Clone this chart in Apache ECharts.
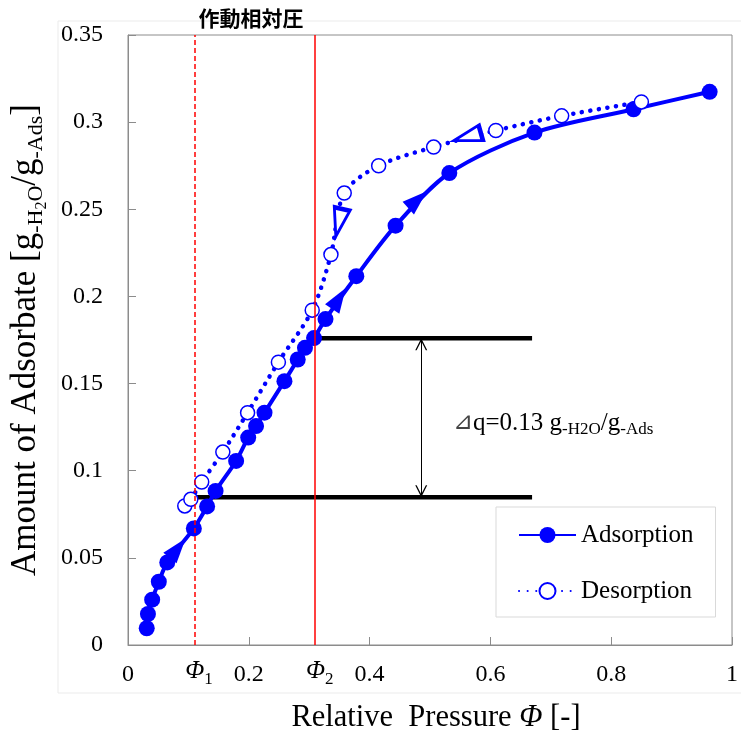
<!DOCTYPE html>
<html><head><meta charset="utf-8">
<script src="https://cdn.jsdelivr.net/npm/echarts@6/dist/echarts.min.js"></script>
<style>html,body{margin:0;padding:0;background:#fff}#c{width:741px;height:738px}</style>
</head><body><div id="c"></div>
<script>
// ---- data ----
const adsX = [0.031, 0.033, 0.040, 0.051, 0.065, 0.109, 0.131, 0.145, 0.179, 0.199, 0.212, 0.226, 0.259, 0.281, 0.293, 0.308, 0.327, 0.378, 0.443, 0.532, 0.673, 0.837, 0.963];
const adsY = [0.0096, 0.0178, 0.026, 0.0363, 0.0474, 0.0669, 0.0795, 0.0884, 0.1056, 0.119, 0.1256, 0.1333, 0.1514, 0.1638, 0.1705, 0.1761, 0.187, 0.2116, 0.2406, 0.2708, 0.294, 0.3074, 0.3174];
const desX = [0.094, 0.104, 0.122, 0.157, 0.198, 0.249, 0.305, 0.336, 0.358, 0.415, 0.506, 0.609, 0.718, 0.850];
const desY = [0.0798, 0.0836, 0.0935, 0.1107, 0.1333, 0.1623, 0.1921, 0.224, 0.2593, 0.275, 0.2857, 0.2952, 0.3036, 0.3116];
// direction arrows: [x, y, rotation]
const adsArrows = [[0.0824, 0.0555, -39], [0.3493, 0.1988, -33], [0.4794, 0.2555, -48]];
const desArrows = [[0.5618, 0.2916, 106], [0.3493, 0.2423, 167]];
const phi1 = 0.107, phi2 = 0.306;
const qHigh = 0.176, qLow = 0.0848;
const bandHighX = [0.306, 0.669];
const bandLowX = [0.113, 0.669];
const dqX = 0.4855;
const xTicks = {min: 0, max: 1, interval: 0.2};
const yTicks = {min: 0, max: 0.35, interval: 0.05};

const SERIF = '"Liberation Serif","Times New Roman",serif';
const BLUE = '#0000ff';
const AX = '#8c8c8c';
const chevron = 'path://M6,0 L6,0.01 M0,24 L6,12 L12,24 L10.6,24 L6,15 L1.4,24 Z';

const chart = echarts.init(document.getElementById('c'), null, {renderer: 'canvas'});
chart.setOption({
  animation: false,
  backgroundColor: '#fff',
  grid: {left: 128, top: 35, width: 607, height: 611, show: true, borderColor: AX, borderWidth: 1, containLabel: false},
  xAxis: {
    type: 'value', min: xTicks.min, max: xTicks.max, interval: xTicks.interval,
    splitLine: {show: false},
    axisLine: {show: true, lineStyle: {color: AX, width: 1}},
    axisTick: {show: true, inside: true, length: 8, lineStyle: {color: AX}},
    axisLabel: {fontFamily: SERIF, fontSize: 24, color: '#000', margin: 18},
    name: 'Relative  Pressure {i|Φ} [-]', nameLocation: 'middle', nameGap: 57,
    nameTextStyle: {fontFamily: SERIF, fontSize: 30.5, color: '#000', padding: [0, 0, 0, 12],
      rich: {i: {fontFamily: SERIF, fontSize: 30.5, fontStyle: 'italic', color: '#000'}}}
  },
  yAxis: {
    type: 'value', min: yTicks.min, max: yTicks.max, interval: yTicks.interval,
    splitLine: {show: false},
    axisLine: {show: true, lineStyle: {color: AX, width: 1}},
    axisTick: {show: true, inside: true, length: 8, lineStyle: {color: AX}},
    axisLabel: {fontFamily: SERIF, fontSize: 24, color: '#000', margin: 25},
    name: 'Amount of Adsorbate [g{s|-H}{ss|2}{s|O}/g{s|-Ads}]',
    nameLocation: 'middle', nameRotate: 90, nameGap: 75,
    nameTextStyle: {fontFamily: SERIF, fontSize: 35, color: '#000',
      rich: {
        s: {fontFamily: SERIF, fontSize: 22, color: '#000', padding: [20, 0, 0, 0]},
        ss: {fontFamily: SERIF, fontSize: 16, color: '#000', padding: [32, 0, 0, 0]}
      }}
  },
  legend: {
    data: ['Adsorption', 'Desorption'],
    orient: 'vertical', left: 496, top: 507,
    padding: [14, 22, 12, 22], itemGap: 28,
    itemWidth: 57, itemHeight: 20,
    borderColor: '#d9d9d9', borderWidth: 1, backgroundColor: '#fff',
    textStyle: {fontFamily: SERIF, fontSize: 25, color: '#000', lineHeight: 28}
  },
  graphic: [
    {type: 'rect', z: -10, silent: true, shape: {x: 58, y: 21, width: 690, height: 672},
     style: {fill: 'none', stroke: '#ebebeb', lineWidth: 1}},
    {type: 'text', x: 251, y: 18, silent: true,
     style: {text: '作動相対圧', fontFamily: '"Noto Sans CJK JP"', fontSize: 21, fontWeight: 'bold', fill: '#000',
             align: 'center', verticalAlign: 'middle'}},
    {type: 'text', x: 453, y: 423, silent: true,
     style: {text: '{d|⊿}q=0.13 g{s|-H2O}/g{s|-Ads}', fontFamily: SERIF, fontSize: 25, fill: '#000',
             align: 'left', verticalAlign: 'middle',
             rich: {
               d: {fontSize: 24, fill: '#444', fontFamily: '"DejaVu Sans",sans-serif', fontWeight: 'lighter'},
               s: {fontFamily: SERIF, fontSize: 17, fill: '#000', padding: [14, 0, 0, 0]}
             }}}
  ],
  series: [
    {
      name: 'bandHigh', type: 'line', z: 2, silent: true, symbol: 'none',
      data: bandHighX.map(x => [x, qHigh]),
      lineStyle: {color: '#000', width: 4.5},
      markLine: {
        silent: true, symbol: ['none', 'none'],
        label: {show: true, position: 'start', distance: 10, color: '#000', padding: [0, 0, 0, 9],
          rich: {
            i: {fontFamily: SERIF, fontSize: 25, fontStyle: 'italic', color: '#000'},
            s: {fontFamily: SERIF, fontSize: 17, color: '#000', padding: [16, 0, 0, 0]}
          }},
        data: [
          {xAxis: phi1, lineStyle: {color: '#ff0000', width: 1.5, type: [5, 3]}, label: {formatter: '{i|Φ}{s|1}'}},
          {xAxis: phi2, lineStyle: {color: '#ff0000', width: 1.5, type: 'solid'}, label: {formatter: '{i|Φ}{s|2}'}}
        ]
      }
    },
    {
      name: 'bandLow', type: 'line', z: 2, silent: true, symbol: 'none',
      data: bandLowX.map(x => [x, qLow]),
      lineStyle: {color: '#000', width: 4.5},
      markLine: {
        silent: true, symbol: [chevron, chevron], symbolSize: [12, 24],
        label: {show: false},
        lineStyle: {color: '#000', width: 1, type: 'solid'},
        data: [[{coord: [dqX, qLow]}, {coord: [dqX, qHigh]}]]
      }
    },
    {
      name: 'Adsorption', type: 'line', z: 3, smooth: 0.3,
      data: adsX.map((x, i) => [x, adsY[i]]),
      symbol: 'circle', symbolSize: 16, showAllSymbol: true,
      itemStyle: {color: BLUE},
      lineStyle: {color: BLUE, width: 4}
    },
    {
      name: 'Desorption', type: 'line', z: 4, smooth: 0.3,
      data: desX.map((x, i) => [x, desY[i]]),
      symbol: 'circle', symbolSize: 14, showAllSymbol: true,
      itemStyle: {color: '#fff', borderColor: BLUE, borderWidth: 1.5},
      lineStyle: {color: BLUE, width: 4.5, type: [0.1, 8.5], cap: 'round'}
    },
    {
      name: 'adsArrows', type: 'scatter', z: 5, silent: true,
      symbol: 'triangle', symbolSize: [17, 25],
      itemStyle: {color: BLUE, opacity: 1},
      data: adsArrows.map(a => ({value: [a[0], a[1]], symbolRotate: a[2]}))
    },
    {
      name: 'desArrows', type: 'scatter', z: 5, silent: true,
      symbol: 'triangle', symbolSize: [16, 28],
      itemStyle: {color: '#fff', borderColor: BLUE, borderWidth: 3.5, opacity: 1},
      data: desArrows.map(a => ({value: [a[0], a[1]], symbolRotate: a[2]}))
    }
  ]
});
</script></body></html>
